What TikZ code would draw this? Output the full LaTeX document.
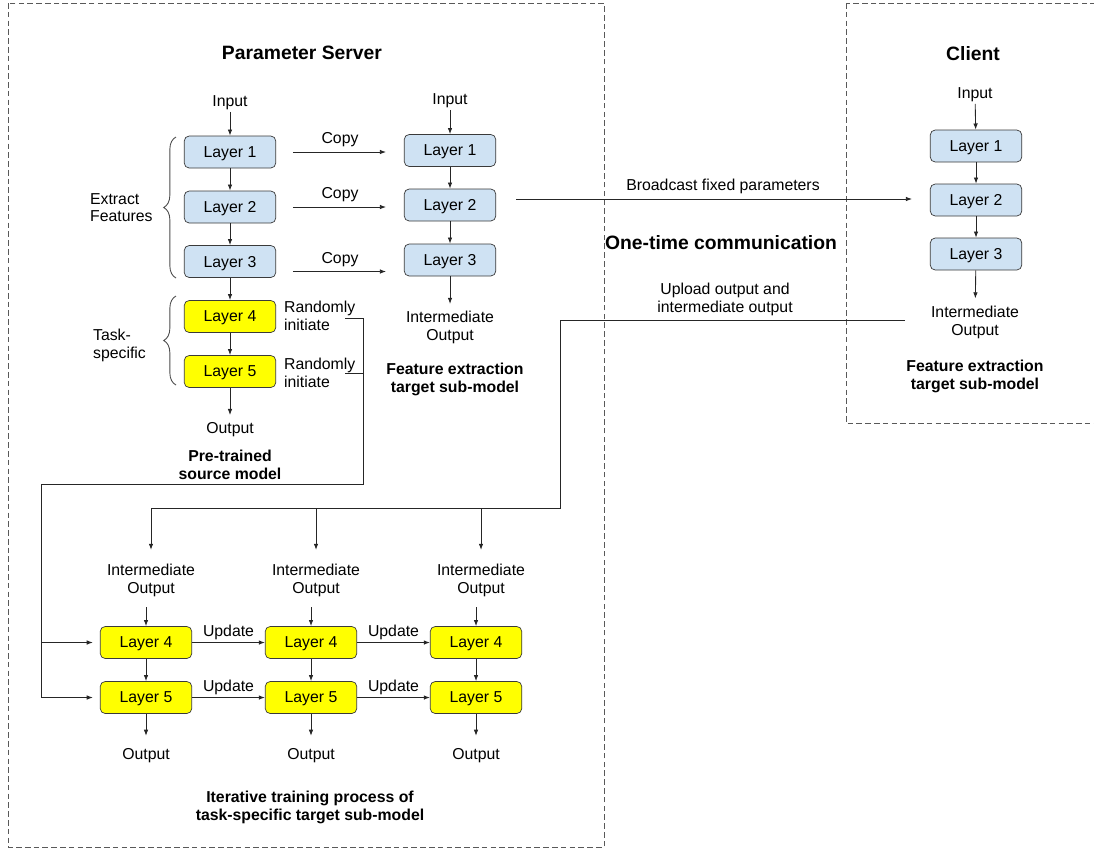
\documentclass[tikz,border=0pt]{standalone}
\usepackage{fontspec}
\setmainfont{Liberation Sans}
\usepackage{tikz}
\usetikzlibrary{arrows.meta,positioning,calc,decorations.pathreplacing}

\definecolor{layerblue}{HTML}{CFE2F3}
\definecolor{layeryellow}{HTML}{FFFF00}
\definecolor{edgegray}{HTML}{3A3A3A}

\tikzset{
  >={Latex[length=3.5pt,width=2.6pt]},
  layer/.style={draw=edgegray, rounded corners=2.8pt, minimum width=1.83cm,
    minimum height=0.64cm, inner sep=0pt, text depth=0pt,
    font=\fontsize{9}{10.2}\selectfont},
  fixlayer/.style={layer, fill=layerblue},
  tasklayer/.style={layer, fill=layeryellow},
  lbl/.style={font=\fontsize{9}{10.2}\selectfont, align=center, inner sep=1pt, yshift=-1.5pt},
  ttl/.style={font=\fontsize{9}{10.2}\selectfont\bfseries, align=center, inner sep=1pt, yshift=-1.5pt},
  bigttl/.style={font=\fontsize{11}{13}\selectfont\bfseries, inner sep=1pt, yshift=-0.8pt},
  frame/.style={draw=black!65, line width=0.5pt, dash pattern=on 3.2pt off 1.8pt},
  conn/.style={draw=black!85, line width=0.5pt},
  curly/.style={draw=black!70, line width=0.5pt, decorate,
    decoration={brace, amplitude=7pt}},
}

\begin{document}
\begin{tikzpicture}[x=0.02cm, y=-0.02cm]
\useasboundingbox (0,0) rectangle (1094,850);
% dashed frames and headings
\draw[frame] (8,3) rectangle (604,847);
\draw[frame] (846,3) rectangle (1100,423);
\node[bigttl] (server) at (302,51) {Parameter Server};
\node[bigttl] (client) at (973,52) {Client};
\node[bigttl] (onetime) at (721,241) {One-time communication};

% pre-trained source model
\node[lbl] (srcin) at (230,100) {Input};
\node[fixlayer] (s1) at (230,152) {Layer 1};
\node[fixlayer] (s2) at (230,207) {Layer 2};
\node[fixlayer] (s3) at (230,261.5) {Layer 3};
\node[tasklayer] (s4) at (230,316.5) {Layer 4};
\node[tasklayer] (s5) at (230,371.5) {Layer 5};
\node[lbl] (srcout) at (230,427) {Output};
\node[ttl] (srccap) at (230,462) {Pre-trained\\source model};
\draw[conn,->] (srcin) -- (s1);
\foreach \a/\b in {s1/s2, s2/s3, s3/s4, s4/s5}
  \draw[conn,->] (\a) -- (\b);
\draw[conn,->,shorten >=3pt] (s5) -- (srcout);

% braces
\draw[curly] (176,278) -- (176,137);
\draw[curly] (176,385) -- (176,296);
\node[lbl, align=left, anchor=west] (extract) at (88,205) {Extract\\Features};
\node[lbl, align=left, anchor=west] (taskspec) at (91,342.5) {Task-\\specific};

% randomly initiate
\node[lbl, align=left, anchor=west] (rand4) at (282,313) {Randomly\\initiate};
\node[lbl, align=left, anchor=west] (rand5) at (282,370.5) {Randomly\\initiate};

% feature extraction target sub-model (server)
\node[lbl] (midin) at (450,98) {Input};
\node[fixlayer] (f1) at (450,150.5) {Layer 1};
\node[fixlayer] (f2) at (450,205) {Layer 2};
\node[fixlayer] (f3) at (450,260) {Layer 3};
\node[lbl] (midout) at (450,325) {Intermediate\\Output};
\node[ttl] (midcap) at (455,376.5) {Feature extraction\\target sub-model};
\draw[conn,->] (midin) -- (f1);
\draw[conn,->] (f1) -- (f2);
\draw[conn,->] (f2) -- (f3);
\draw[conn,->,shorten >=3pt] (f3) -- (midout);

% copy arrows
\draw[conn,->,shorten <=9.6pt, shorten >=10.2pt] (s1.east) -- (s1.east -| f1.west)
  node[lbl, midway, above=3pt] (copy1) {Copy};
\draw[conn,->,shorten <=9.6pt, shorten >=10.2pt] (s2.east) -- (s2.east -| f2.west)
  node[lbl, midway, above=3pt] (copy2) {Copy};
\draw[conn,->,shorten <=9.6pt, shorten >=10.2pt] ($(s3.east)+(0,10)$) -- ($(s3.east -| f3.west)+(0,10)$)
  node[lbl, midway, above=3pt] (copy3) {Copy};

% client
\node[lbl] (cin) at (975,92) {Input};
\node[fixlayer] (c1) at (976,146) {Layer 1};
\node[fixlayer] (c2) at (976,200) {Layer 2};
\node[fixlayer] (c3) at (976,254) {Layer 3};
\node[lbl] (cout) at (975,319.5) {Intermediate\\Output};
\node[ttl] (ccap) at (975,374) {Feature extraction\\target sub-model};
\draw[conn,->] (cin) -- (c1);
\draw[conn,->] (c1) -- (c2);
\draw[conn,->] (c2) -- (c3);
\draw[conn,->,shorten >=3pt] (c3) -- (cout);

% one-time communication
\draw[conn,->,shorten >=10.2pt] ($(f2.east)+(20,-6)$) -- ($(c2.west)+(0,-1)$)
  node[lbl, pos=0.5, above=3.5pt] (bcast) {Broadcast fixed parameters};
\node[lbl] (upload) at (725,297) {Upload output and\\intermediate output};

% iterative training process
\foreach \c/\x/\ix in {1/146/151, 2/311/316, 3/476/481} {
  \node[lbl] (im\c) at (\ix,578) {Intermediate\\Output};
  \node[tasklayer] (t\c4) at (\x,642.5) {Layer 4};
  \node[tasklayer] (t\c5) at (\x,697.5) {Layer 5};
  \node[lbl] (out\c) at (\x,753) {Output};
  \draw[conn,->] ($(im\c.south -| t\c4.north)+(0,8)$) -- (t\c4);
  \draw[conn,->] (t\c4) -- (t\c5);
  \draw[conn,->,shorten >=6pt] (t\c5) -- (out\c);
}
\foreach \a/\b in {1/2, 2/3} {
  \draw[conn,->] (t\a4) -- (t\b4) node[lbl, midway, above=2pt] {Update};
  \draw[conn,->] (t\a5) -- (t\b5) node[lbl, midway, above=2pt] {Update};
}
\node[ttl] (itercap) at (310,804.5) {Iterative training process of\\task-specific target sub-model};

% randomly initiated layers feed the training process
\coordinate (ri4) at (345,318.5);
\coordinate (ri5) at (345,373);
\coordinate (rbend) at (363,484);
\coordinate (lbend) at (41,484);
\draw[conn] (ri4) -- (ri4 -| rbend) -- (rbend) -- (lbend) -- (lbend |- t15.west);
\draw[conn] (ri5) -- (ri5 -| rbend);
\draw[conn,->,shorten >=4pt] (lbend |- t14.west) -- (t14.west);
\draw[conn,->,shorten >=4pt] (lbend |- t15.west) -- (t15.west);

% uploaded intermediate output feeds the training process
\coordinate (upstart) at (905,320);
\coordinate (ubend) at (560,508);
\draw[conn] (upstart) -- (upstart -| ubend) -- (ubend) -- (ubend -| im1.north);
\foreach \c in {1,2,3}
  \draw[conn,->,shorten >=7pt] (ubend -| im\c.north) -- (im\c.north);
\end{tikzpicture}
\end{document}
